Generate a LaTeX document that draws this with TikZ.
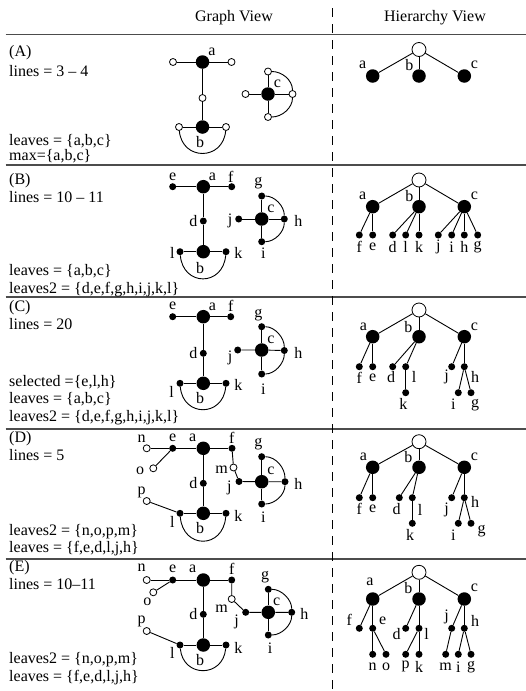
\documentclass[tikz,border=0pt]{standalone}
\usepackage{fontspec}
\setmainfont{Liberation Serif}
\tikzset{
    bignode/.style={circle, fill, inner sep=0pt, minimum size=13.5pt},
    smallnode/.style={circle, fill, inner sep=0pt, minimum size=7pt},
    opennode/.style={circle, draw, fill=white, inner sep=0pt, minimum size=7pt, line width=0.8pt},
    rootnode/.style={circle, draw, fill=white, inner sep=0pt, minimum size=14pt, line width=0.8pt},
    lbl/.style={inner sep=0pt},
    txt/.style={anchor=base west, inner sep=0pt},
    rule/.style={line width=1.2pt, black!70},
    link/.style={line width=0.9pt}
}
\begin{document}
\begin{tikzpicture}[x=1pt, y=-1pt, font=\fontsize{16}{19}\selectfont]
    \useasboundingbox (0,0) rectangle (526,691);
    % header and frame
    \node[lbl] (gview) at (234,18) {Graph View};
    \node[lbl] (hview) at (435,18) {Hierarchy View};
    \draw[rule] (5.7,34.5) -- (526,34.5);
    \draw[rule] (5.7,165) -- (526,165);
    \draw[rule] (5.7,297) -- (526,297);
    \draw[rule] (5.7,429) -- (526,429);
    \draw[rule] (5.7,559) -- (526,559);
    \draw[line width=0.9pt, dash pattern=on 9pt off 7pt] (332,8) -- (332,691);

    % (A)
    \node[txt] (tA1) at (9,56) {(A)};
    \node[txt] (tA2) at (9,76) {lines = 3 -- 4};
    \node[txt] (tA3) at (9,145) {leaves = \{a,b,c\}};
    \node[txt] (tA4) at (9,160) {max=\{a,b,c\}};
    \node[bignode] (Aa) at (202.5,62) {};
    \node[opennode] (Ae) at (173,62) {};
    \node[opennode] (Af) at (231.5,62) {};
    \node[opennode] (Ad) at (202.5,98) {};
    \node[bignode] (Ab) at (202.5,127) {};
    \node[opennode] (Al) at (179,127) {};
    \node[opennode] (Ak) at (226,127) {};
    \node[bignode] (Ac) at (268,94) {};
    \node[opennode] (Ag) at (268,71.5) {};
    \node[opennode] (Ai) at (268,117) {};
    \node[opennode] (Aj) at (245.5,94) {};
    \node[opennode] (Ah) at (292.5,94) {};
    \draw[link] (Ae) -- (Aa) -- (Af);
    \draw[link] (Aa) -- (Ad) -- (Ab);
    \draw[link] (Al) -- (Ab) -- (Ak);
    \draw[link] (Aj) -- (Ac) -- (Ah);
    \draw[link] (Ag) -- (Ac) -- (Ai);
    \draw[link] (Al) .. controls +(3,34) and +(-3,34) .. (Ak);
    \draw[link] (Ag) .. controls +(14,0) and +(0,-14) .. (Ah) .. controls +(0,14) and +(14,0) .. (Ai);
    \node[lbl] (Aa-l) at (212,52) {a};
    \node[lbl] (Ab-l) at (200,142.5) {b};
    \node[lbl] (Ac-l) at (277.5,84) {c};
    \node[rootnode] (hAr) at (419,49.5) {};
    \node[bignode] (hAa) at (372.7,76) {};
    \node[bignode] (hAb) at (419,76) {};
    \node[bignode] (hAc) at (464.3,76) {};
    \draw[link] (hAr) -- (hAa);
    \draw[link] (hAr) -- (hAb);
    \draw[link] (hAr) -- (hAc);
    \node[lbl] (hAa-l) at (362.7,65.3) {a};
    \node[lbl] (hAb-l) at (409.3,65.3) {b};
    \node[lbl] (hAc-l) at (474.3,65.3) {c};

    % (B)
    \node[txt] (tB1) at (9,184) {(B)};
    \node[txt] (tB2) at (9,202) {lines = 10 -- 11};
    \node[txt] (tB3) at (9,275) {leaves = \{a,b,c\}};
    \node[txt] (tB4) at (9,293) {leaves2 = \{d,e,f,g,h,i,j,k,l\}};
    \node[smallnode] (Be) at (172.7,186.7) {};
    \node[bignode] (Ba) at (203.3,186.7) {};
    \node[smallnode] (Bf) at (231.7,186.7) {};
    \node[smallnode] (Bd) at (203.3,221) {};
    \node[smallnode] (Bj) at (238.7,219) {};
    \node[bignode] (Bc) at (261.7,219) {};
    \node[smallnode] (Bg) at (261.7,196) {};
    \node[smallnode] (Bh) at (284.3,219) {};
    \node[smallnode] (Bi) at (261.7,241.7) {};
    \node[smallnode] (Bl) at (180,251.7) {};
    \node[bignode] (Bb) at (203.3,251.7) {};
    \node[smallnode] (Bk) at (226,251.7) {};
    \draw[link] (Be) -- (Ba) -- (Bf);
    \draw[link] (Ba) -- (Bd) -- (Bb);
    \draw[link] (Bl) -- (Bb) -- (Bk);
    \draw[link] (Bj) -- (Bc) -- (Bh);
    \draw[link] (Bg) -- (Bc) -- (Bi);
    \draw[link] (Bl) .. controls +(3,35) and +(-3,35) .. (Bk);
    \draw[link] (Bg) .. controls +(13,0) and +(0,-13) .. (Bh) .. controls +(0,13) and +(13,0) .. (Bi);
    \node[lbl] (Be-l) at (172.7,176.7) {e};
    \node[lbl] (Ba-l) at (212.3,177.3) {a};
    \node[lbl] (Bf-l) at (230.7,176.7) {f};
    \node[lbl] (Bd-l) at (193.3,221) {d};
    \node[lbl] (Bj-l) at (230,221) {j};
    \node[lbl] (Bc-l) at (271,209.3) {c};
    \node[lbl] (Bg-l) at (258.3,183.3) {g};
    \node[lbl] (Bh-l) at (298.3,221) {h};
    \node[lbl] (Bi-l) at (263.3,253.3) {i};
    \node[lbl] (Bl-l) at (172.3,253.3) {l};
    \node[lbl] (Bb-l) at (200,267.7) {b};
    \node[lbl] (Bk-l) at (238.3,253.3) {k};
    \node[rootnode] (hBr) at (419,180) {};
    \node[bignode] (hBa) at (372.7,206.7) {};
    \node[bignode] (hBb) at (419,206.7) {};
    \node[bignode] (hBc) at (464.3,206.7) {};
    \node[smallnode] (hBf) at (359.3,235) {};
    \node[smallnode] (hBe) at (372.7,235) {};
    \node[smallnode] (hBd) at (392.7,235) {};
    \node[smallnode] (hBl) at (405.7,235) {};
    \node[smallnode] (hBk) at (419,235) {};
    \node[smallnode] (hBj) at (438.3,235) {};
    \node[smallnode] (hBi) at (451.7,235) {};
    \node[smallnode] (hBh) at (464.3,235) {};
    \node[smallnode] (hBg) at (477.7,235) {};
    \draw[link] (hBr) -- (hBa);
    \draw[link] (hBr) -- (hBb);
    \draw[link] (hBr) -- (hBc);
    \draw[link] (hBa) -- (hBf);
    \draw[link] (hBa) -- (hBe);
    \draw[link] (hBb) -- (hBd);
    \draw[link] (hBb) -- (hBl);
    \draw[link] (hBb) -- (hBk);
    \draw[link] (hBc) -- (hBj);
    \draw[link] (hBc) -- (hBi);
    \draw[link] (hBc) -- (hBh);
    \draw[link] (hBc) -- (hBg);
    \node[lbl] (hBa-l) at (362.7,196) {a};
    \node[lbl] (hBb-l) at (409.3,196) {b};
    \node[lbl] (hBc-l) at (474.3,196) {c};
    \node[lbl] (hBf-l) at (359.3,247) {f};
    \node[lbl] (hBe-l) at (372.7,247) {e};
    \node[lbl] (hBd-l) at (392.7,247) {d};
    \node[lbl] (hBl-l) at (405.7,247) {l};
    \node[lbl] (hBk-l) at (419,247) {k};
    \node[lbl] (hBj-l) at (438.3,247) {j};
    \node[lbl] (hBi-l) at (451.7,247) {i};
    \node[lbl] (hBh-l) at (464.3,247) {h};
    \node[lbl] (hBg-l) at (477.7,247) {g};

    % (C)
    \node[txt] (tC1) at (9,311) {(C)};
    \node[txt] (tC2) at (9,329) {lines = 20};
    \node[txt] (tC3) at (9,386) {selected =\{e,l,h\}};
    \node[txt] (tC4) at (9,403) {leaves = \{a,b,c\}};
    \node[txt] (tC5) at (9,421) {leaves2 = \{d,e,f,g,h,i,j,k,l\}};
    \node[smallnode] (Ce) at (172.7,316.7) {};
    \node[bignode] (Ca) at (203.3,316.7) {};
    \node[smallnode] (Cf) at (230.7,316.7) {};
    \node[smallnode] (Cd) at (203.3,353.3) {};
    \node[smallnode] (Cj) at (237.7,350) {};
    \node[bignode] (Cc) at (261.7,350) {};
    \node[smallnode] (Cg) at (261.7,326.7) {};
    \node[smallnode] (Ch) at (284.3,350.5) {};
    \node[smallnode] (Ci) at (261.7,374) {};
    \node[smallnode] (Cl) at (180,383.3) {};
    \node[bignode] (Cb) at (203.3,383.3) {};
    \node[smallnode] (Ck) at (226,383.3) {};
    \draw[link] (Ce) -- (Ca) -- (Cf);
    \draw[link] (Ca) -- (Cd) -- (Cb);
    \draw[link] (Cl) -- (Cb) -- (Ck);
    \draw[link] (Cj) -- (Cc) -- (Ch);
    \draw[link] (Cg) -- (Cc) -- (Ci);
    \draw[link] (Cl) .. controls +(3,34) and +(-3,34) .. (Ck);
    \draw[link] (Cg) .. controls +(13,0) and +(0,-13) .. (Ch) .. controls +(0,13) and +(13,0) .. (Ci);
    \node[lbl] (Ce-l) at (172.7,306) {e};
    \node[lbl] (Ca-l) at (212.3,307) {a};
    \node[lbl] (Cf-l) at (230.7,306) {f};
    \node[lbl] (Cd-l) at (193.3,353.3) {d};
    \node[lbl] (Cj-l) at (230,358.3) {j};
    \node[lbl] (Cc-l) at (271,340) {c};
    \node[lbl] (Cg-l) at (258.3,315) {g};
    \node[lbl] (Ch-l) at (298.3,352.5) {h};
    \node[lbl] (Ci-l) at (263.3,389) {i};
    \node[lbl] (Cl-l) at (171.7,391.7) {l};
    \node[lbl] (Cb-l) at (200,398.3) {b};
    \node[lbl] (Ck-l) at (238.3,385) {k};
    \node[rootnode] (hCr) at (419,310) {};
    \node[bignode] (hCa) at (372.7,336.7) {};
    \node[bignode] (hCb) at (419,336.7) {};
    \node[bignode] (hCc) at (464.3,336.7) {};
    \node[smallnode] (hCf) at (359.3,366.7) {};
    \node[smallnode] (hCe) at (372.7,366.7) {};
    \node[smallnode] (hCd) at (392.7,366.7) {};
    \node[smallnode] (hCl) at (405.7,366.7) {};
    \node[smallnode] (hCj) at (451.7,366.7) {};
    \node[smallnode] (hCh) at (464.3,366.7) {};
    \node[smallnode] (hCk) at (405.7,392.7) {};
    \node[smallnode] (hCi) at (458.3,392.7) {};
    \node[smallnode] (hCg) at (471,392.7) {};
    \draw[link] (hCr) -- (hCa);
    \draw[link] (hCr) -- (hCb);
    \draw[link] (hCr) -- (hCc);
    \draw[link] (hCa) -- (hCf);
    \draw[link] (hCa) -- (hCe);
    \draw[link] (hCb) -- (hCd);
    \draw[link] (hCb) -- (hCl);
    \draw[link] (hCl) -- (hCk);
    \draw[link] (hCc) -- (hCj);
    \draw[link] (hCc) -- (hCh);
    \draw[link] (hCh) -- (hCi);
    \draw[link] (hCh) -- (hCg);
    \node[lbl] (hCa-l) at (363.3,326.7) {a};
    \node[lbl] (hCb-l) at (408.3,326.7) {b};
    \node[lbl] (hCc-l) at (474.3,326.7) {c};
    \node[lbl] (hCf-l) at (359.3,377.5) {f};
    \node[lbl] (hCe-l) at (372.7,377.5) {e};
    \node[lbl] (hCd-l) at (391,377.5) {d};
    \node[lbl] (hCl-l) at (414,376.7) {l};
    \node[lbl] (hCj-l) at (446.7,376.7) {j};
    \node[lbl] (hCh-l) at (475,376.7) {h};
    \node[lbl] (hCk-l) at (403.3,403.8) {k};
    \node[lbl] (hCi-l) at (453.3,403.8) {i};
    \node[lbl] (hCg-l) at (475,405) {g};

    % (D)
    \node[txt] (tD1) at (9,442) {(D)};
    \node[txt] (tD2) at (9,460) {lines = 5};
    \node[txt] (tD3) at (9,535) {leaves2 = \{n,o,p,m\}};
    \node[txt] (tD4) at (9,552) {leaves = \{f,e,d,l,j,h\}};
    \node[opennode] (Dn) at (146.7,448.3) {};
    \node[smallnode] (De) at (172.7,448.3) {};
    \node[bignode] (Da) at (203.3,448.3) {};
    \node[smallnode] (Df) at (232,448.3) {};
    \node[opennode] (Do) at (153.3,468.3) {};
    \node[opennode] (Dm) at (233.5,467.5) {};
    \node[smallnode] (Dj) at (239,481.5) {};
    \node[smallnode] (Dd) at (203.3,483.3) {};
    \node[bignode] (Dc) at (261.7,481.7) {};
    \node[smallnode] (Dg) at (261.7,456.7) {};
    \node[smallnode] (Dh) at (285,481.7) {};
    \node[smallnode] (Di) at (261.7,504) {};
    \node[opennode] (Dp) at (146.7,501) {};
    \node[smallnode] (Dl) at (180,513.3) {};
    \node[bignode] (Db) at (203.3,513.3) {};
    \node[smallnode] (Dk) at (226,513.3) {};
    \draw[link] (Dn) -- (De) -- (Da) -- (Df);
    \draw[link] (Do) -- (De);
    \draw[link] (Da) -- (Dd) -- (Db);
    \draw[link] (Df) -- (Dm) -- (Dj) -- (Dc) -- (Dh);
    \draw[link] (Dg) -- (Dc) -- (Di);
    \draw[link] (Dp) -- (Dl);
    \draw[link] (Dl) -- (Db) -- (Dk);
    \draw[link] (Dl) .. controls +(3,36) and +(-3,36) .. (Dk);
    \draw[link] (Dg) .. controls +(14,0) and +(0,-14) .. (Dh) .. controls +(0,13) and +(13,0) .. (Di);
    \node[lbl] (Dn-l) at (141.7,438.5) {n};
    \node[lbl] (De-l) at (172.7,438.3) {e};
    \node[lbl] (Da-l) at (192.7,438.3) {a};
    \node[lbl] (Df-l) at (231.7,437.7) {f};
    \node[lbl] (Do-l) at (140,470.5) {o};
    \node[lbl] (Dm-l) at (221.7,470) {m};
    \node[lbl] (Dj-l) at (229.3,488.3) {j};
    \node[lbl] (Dd-l) at (193.3,483.3) {d};
    \node[lbl] (Dg-l) at (258.3,444) {g};
    \node[lbl] (Dc-l) at (271,471) {c};
    \node[lbl] (Dh-l) at (298.3,483.5) {h};
    \node[lbl] (Di-l) at (263.3,516.7) {i};
    \node[lbl] (Dp-l) at (141.7,492.5) {p};
    \node[lbl] (Dl-l) at (172.3,521.7) {l};
    \node[lbl] (Dk-l) at (238.3,515.7) {k};
    \node[lbl] (Db-l) at (200,528) {b};
    \node[rootnode] (hDr) at (419,441.7) {};
    \node[bignode] (hDa) at (372.7,467.3) {};
    \node[bignode] (hDb) at (419,467.3) {};
    \node[bignode] (hDc) at (464.3,467.3) {};
    \node[smallnode] (hDf) at (359.3,497.7) {};
    \node[smallnode] (hDe) at (372.7,497.7) {};
    \node[smallnode] (hDd) at (399.3,497.7) {};
    \node[smallnode] (hDl) at (412.3,497.7) {};
    \node[smallnode] (hDj) at (451.7,497.7) {};
    \node[smallnode] (hDh) at (464.3,497.7) {};
    \node[smallnode] (hDk) at (412.3,523.3) {};
    \node[smallnode] (hDi) at (458.3,523.3) {};
    \node[smallnode] (hDg) at (471,523.3) {};
    \draw[link] (hDr) -- (hDa);
    \draw[link] (hDr) -- (hDb);
    \draw[link] (hDr) -- (hDc);
    \draw[link] (hDa) -- (hDf);
    \draw[link] (hDa) -- (hDe);
    \draw[link] (hDb) -- (hDd);
    \draw[link] (hDb) -- (hDl);
    \draw[link] (hDl) -- (hDk);
    \draw[link] (hDc) -- (hDj);
    \draw[link] (hDc) -- (hDh);
    \draw[link] (hDh) -- (hDi);
    \draw[link] (hDh) -- (hDg);
    \node[lbl] (hDa-l) at (363.3,457.3) {a};
    \node[lbl] (hDb-l) at (408.3,457.3) {b};
    \node[lbl] (hDc-l) at (474.3,457.3) {c};
    \node[lbl] (hDf-l) at (359.3,509) {f};
    \node[lbl] (hDe-l) at (372.7,509) {e};
    \node[lbl] (hDd-l) at (396.7,509) {d};
    \node[lbl] (hDl-l) at (420,510) {l};
    \node[lbl] (hDj-l) at (446.7,510) {j};
    \node[lbl] (hDh-l) at (475,501.7) {h};
    \node[lbl] (hDk-l) at (410,535) {k};
    \node[lbl] (hDi-l) at (453.3,535) {i};
    \node[lbl] (hDg-l) at (481.7,531) {g};

    % (E)
    \node[txt] (tE1) at (9,571) {(E)};
    \node[txt] (tE2) at (9,589) {lines = 10--11};
    \node[txt] (tE3) at (9,663) {leaves2 = \{n,o,p,m\}};
    \node[txt] (tE4) at (9,681) {leaves = \{f,e,d,l,j,h\}};
    \node[opennode] (En) at (146.7,580) {};
    \node[smallnode] (Ee) at (172.7,580) {};
    \node[bignode] (Ea) at (203.3,580) {};
    \node[smallnode] (Ef) at (231.7,580) {};
    \node[opennode] (Eo) at (153.3,592.3) {};
    \node[opennode] (Em) at (231.7,599) {};
    \node[smallnode] (Ej) at (245.7,612.3) {};
    \node[smallnode] (Ed) at (203.3,614.3) {};
    \node[bignode] (Ec) at (268.3,612.3) {};
    \node[smallnode] (Eg) at (268.3,589.3) {};
    \node[smallnode] (Eh) at (291.7,612.3) {};
    \node[smallnode] (Ei) at (268.3,635) {};
    \node[opennode] (Ep) at (146.7,631) {};
    \node[smallnode] (El) at (180,645) {};
    \node[bignode] (Eb) at (203.3,645) {};
    \node[smallnode] (Ek) at (226,645) {};
    \draw[link] (En) -- (Ee) -- (Ea) -- (Ef);
    \draw[link] (Eo) -- (Ee);
    \draw[link] (Ea) -- (Ed) -- (Eb);
    \draw[link] (Ef) -- (Em) -- (Ej) -- (Ec) -- (Eh);
    \draw[link] (Eg) -- (Ec) -- (Ei);
    \draw[link] (Ep) -- (El);
    \draw[link] (El) -- (Eb) -- (Ek);
    \draw[link] (El) .. controls +(3,33) and +(-3,33) .. (Ek);
    \draw[link] (Eg) .. controls +(13,0) and +(0,-13) .. (Eh) .. controls +(0,13) and +(13,0) .. (Ei);
    \node[lbl] (En-l) at (141.7,568) {n};
    \node[lbl] (Ee-l) at (172.7,569) {e};
    \node[lbl] (Ea-l) at (192.7,569) {a};
    \node[lbl] (Ef-l) at (231.7,569) {f};
    \node[lbl] (Eo-l) at (147.3,602.3) {o};
    \node[lbl] (Em-l) at (221.7,608.3) {m};
    \node[lbl] (Ej-l) at (236.7,621.7) {j};
    \node[lbl] (Ed-l) at (193.3,614.3) {d};
    \node[lbl] (Eg-l) at (265,576.7) {g};
    \node[lbl] (Ec-l) at (276.7,601.7) {c};
    \node[lbl] (Eh-l) at (304.3,614.3) {h};
    \node[lbl] (Ei-l) at (270,647.7) {i};
    \node[lbl] (Ep-l) at (141.7,621.7) {p};
    \node[lbl] (El-l) at (172.3,653.3) {l};
    \node[lbl] (Ek-l) at (238.3,647.7) {k};
    \node[lbl] (Eb-l) at (200,660) {b};
    \node[rootnode] (hEr) at (419,572.3) {};
    \node[bignode] (hEa) at (372.7,599) {};
    \node[bignode] (hEb) at (419,599) {};
    \node[bignode] (hEc) at (464.3,599) {};
    \node[smallnode] (hEf) at (359.3,628.3) {};
    \node[smallnode] (hEe) at (372.7,628.3) {};
    \node[smallnode] (hEd) at (405.7,628.3) {};
    \node[smallnode] (hEl) at (419,628.3) {};
    \node[smallnode] (hEj) at (451.7,628.3) {};
    \node[smallnode] (hEh) at (464.3,628.3) {};
    \node[smallnode] (hEn) at (372.7,654.3) {};
    \node[smallnode] (hEo) at (386,654.3) {};
    \node[smallnode] (hEp) at (405.7,654.3) {};
    \node[smallnode] (hEk) at (419,654.3) {};
    \node[smallnode] (hEm) at (445.7,654.3) {};
    \node[smallnode] (hEi) at (458.3,654.3) {};
    \node[smallnode] (hEg) at (471,654.3) {};
    \draw[link] (hEr) -- (hEa);
    \draw[link] (hEr) -- (hEb);
    \draw[link] (hEr) -- (hEc);
    \draw[link] (hEa) -- (hEf);
    \draw[link] (hEa) -- (hEe);
    \draw[link] (hEe) -- (hEn);
    \draw[link] (hEe) -- (hEo);
    \draw[link] (hEb) -- (hEd);
    \draw[link] (hEb) -- (hEl);
    \draw[link] (hEl) -- (hEp);
    \draw[link] (hEl) -- (hEk);
    \draw[link] (hEc) -- (hEj);
    \draw[link] (hEc) -- (hEh);
    \draw[link] (hEj) -- (hEm);
    \draw[link] (hEh) -- (hEi);
    \draw[link] (hEh) -- (hEg);
    \node[lbl] (hEa-l) at (370,582.3) {a};
    \node[lbl] (hEb-l) at (408.3,588.3) {b};
    \node[lbl] (hEc-l) at (474.3,588.3) {c};
    \node[lbl] (hEf-l) at (349.3,620) {f};
    \node[lbl] (hEe-l) at (382.7,621) {e};
    \node[lbl] (hEd-l) at (396.7,634.3) {d};
    \node[lbl] (hEl-l) at (426.7,634.3) {l};
    \node[lbl] (hEj-l) at (446.7,616.7) {j};
    \node[lbl] (hEh-l) at (475,621) {h};
    \node[lbl] (hEn-l) at (372.7,666.7) {n};
    \node[lbl] (hEo-l) at (386,666.7) {o};
    \node[lbl] (hEp-l) at (405.7,666.7) {p};
    \node[lbl] (hEk-l) at (419,666.7) {k};
    \node[lbl] (hEm-l) at (445.7,666.7) {m};
    \node[lbl] (hEi-l) at (458.3,666.7) {i};
    \node[lbl] (hEg-l) at (471,666.7) {g};
\end{tikzpicture}
\end{document}
